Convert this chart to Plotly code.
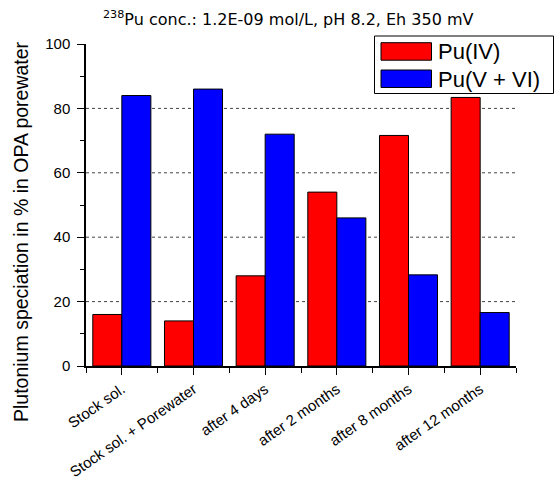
import plotly.graph_objects as go

# Sampling stages and speciation shares (%)
categories = ["Stock sol.", "Stock sol. + Porewater", "after 4 days",
              "after 2 months", "after 8 months", "after 12 months"]
pu_iv = [16.0, 14.0, 28.0, 54.0, 71.6, 83.4]
pu_v_vi = [84.0, 86.0, 72.0, 46.0, 28.3, 16.6]
series_names = ["Pu(IV)", "Pu(V + VI)"]
series_colors = ["#FF0000", "#0000FF"]
grid_levels = [20, 40, 60, 80]
y_ticks = [0, 20, 40, 60, 80, 100]

W, H = 556, 484
ML, MR, MT, MB = 86, 40, 44, 118
PW, PH = W - ML - MR, H - MT - MB
SANS = "Liberation Sans"


def px(x):
    return (x - ML) / PW


def py(y):
    return (H - MB - y) / PH


x_pos = list(range(len(categories)))

fig = go.Figure()
for name, vals, col in zip(series_names, [pu_iv, pu_v_vi], series_colors):
    fig.add_trace(go.Bar(
        x=x_pos, y=vals, name=name, marker_color=col,
        marker_line=dict(color="black", width=1), showlegend=False,
    ))

# dotted horizontal grid behind the bars
for g in grid_levels:
    fig.add_shape(type="line", xref="paper", yref="y", x0=0, x1=1, y0=g, y1=g,
                  line=dict(color="#444444", width=1, dash="dot"), layer="below")

# legend box with wide colour swatches
fig.add_shape(type="rect", xref="paper", yref="paper",
              x0=px(374.5), x1=px(553.5), y0=py(36), y1=py(93.5),
              line=dict(color="black", width=1), fillcolor="white")
for i, (name, col) in enumerate(zip(series_names, series_colors)):
    top = 42.7 + i * 27.3
    fig.add_shape(type="rect", xref="paper", yref="paper",
                  x0=px(381), x1=px(431.5), y0=py(top), y1=py(top + 17.5),
                  line=dict(color="black", width=1), fillcolor=col)
    fig.add_annotation(text=name, xref="paper", yref="paper",
                       x=px(435.5), y=py(top + 9), xanchor="left", yanchor="middle",
                       showarrow=False,
                       font=dict(family=SANS, size=22, color="black"))

# title line
fig.add_annotation(text="<sup>238</sup>Pu conc.: 1.2E-09 mol/L, pH 8.2, Eh 350 mV",
                   xref="paper", yref="paper", x=px(288), y=py(19),
                   xanchor="center", yanchor="middle", showarrow=False,
                   font=dict(family="DejaVu Sans", size=16, color="black"))

# y-axis title
fig.add_annotation(text="Plutonium speciation in % in OPA porewater",
                   xref="paper", yref="paper", x=px(21), y=py(232),
                   xanchor="center", yanchor="middle", textangle=-90, showarrow=False,
                   font=dict(family=SANS, size=19.5, color="black"))

fig.update_layout(
    width=W, height=H,
    margin=dict(l=ML, r=MR, t=MT, b=MB, pad=0, autoexpand=False),
    paper_bgcolor="white", plot_bgcolor="white",
    barmode="group", bargap=0.19, bargroupgap=0,
    xaxis=dict(
        range=[-0.5, len(categories) - 0.5], tickmode="array",
        tickvals=x_pos, ticktext=categories, tickangle=-35, automargin=False,
        ticks="outside", ticklen=7, tickcolor="black", tickwidth=1,
        minor=dict(tick0=0.5, dtick=1, ticks="outside", ticklen=5,
                   tickcolor="black", tickwidth=1),
        showline=True, linecolor="black", linewidth=1.5,
        showgrid=False, zeroline=False,
        tickfont=dict(family=SANS, size=15, color="black"),
    ),
    yaxis=dict(
        range=[0, 100], tickmode="array", tickvals=y_ticks, automargin=False,
        ticks="outside", ticklen=7, tickcolor="black", tickwidth=1,
        minor=dict(dtick=10, ticks="outside", ticklen=4,
                   tickcolor="black", tickwidth=1),
        showline=True, linecolor="black", linewidth=1.5,
        showgrid=False, zeroline=False, ticklabelstandoff=4,
        tickfont=dict(family=SANS, size=15, color="black"),
    ),
)

fig.write_html("out.html")
